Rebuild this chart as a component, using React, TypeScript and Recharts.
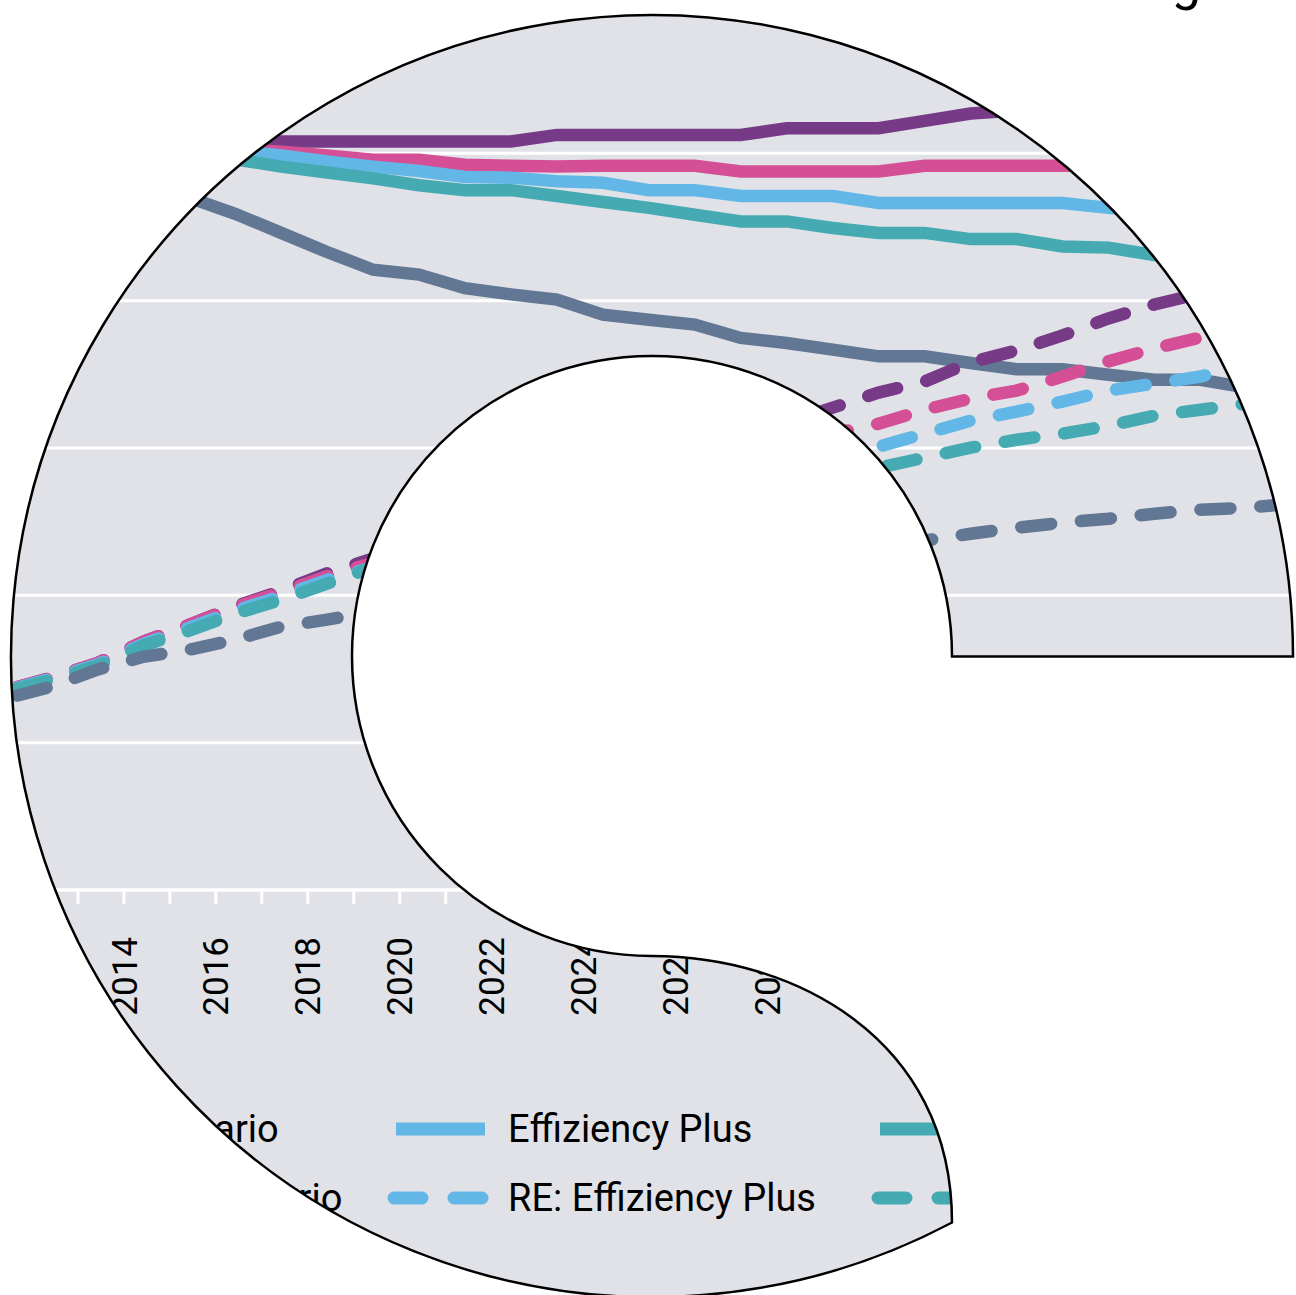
import React from 'react';
import { LineChart, Line, XAxis, YAxis, CartesianGrid, Legend } from 'recharts';

// ---------- data ----------
const years = [
  2010, 2011, 2012, 2013, 2014, 2015, 2016, 2017, 2018, 2019, 2020,
  2021, 2022, 2023, 2024, 2025, 2026, 2027, 2028, 2029, 2030,
  2031, 2032, 2033, 2034, 2035, 2036, 2037, 2038, 2039, 2040,
];
// values are plotted at mid-year
const MID_YEAR = 0.42;

const tickYears = [
  2011, 2012, 2013, 2014, 2015, 2016, 2017, 2018, 2019, 2020, 2021, 2022, 2023, 2024,
  2025, 2026, 2027, 2028, 2029, 2030, 2031, 2032, 2033, 2034, 2035, 2036, 2037, 2038, 2039,
];
const yTicks = [0, 100, 200, 300, 400, 500, 600];

// solid series
const purpleSolid = [512, 511, 510, 509, 509, 508, 508, 508, 508, 508, 508, 508, 508, 512.5, 512.5, 512.5, 512.5, 512.5, 517, 517, 517, 522, 527, 529, 531, 533, 535, 536, 538, 539, 540];
const pinkSolid = [512, 511, 510, 509, 508, 507, 503, 501, 498.5, 495.7, 495.7, 492.3, 491.6, 491, 491.6, 491.6, 491.6, 487.7, 487.7, 487.7, 487.7, 491.6, 491.6, 491.6, 491.6, 491.6, 491, 490, 490, 489, 489];
const blueSolid = [512, 511, 510, 509, 508, 506, 502, 498.5, 494.5, 491, 488, 484, 483.5, 481, 480, 475, 475, 471, 471, 471, 466.3, 466.3, 466.3, 466.3, 466.3, 463, 460, 458, 456, 455, 453];
const tealSolid = [512, 511, 510, 508, 506, 502, 496, 491, 487, 483, 478.3, 475, 475, 471, 467, 463, 458.3, 453.8, 453.8, 449.3, 446, 446, 441.8, 441.8, 436.8, 436, 431, 428, 425, 423, 420];
const graySolid = [490, 486, 482, 478, 474, 470, 459, 446, 433, 421, 417.7, 408.5, 404.3, 400.7, 390.5, 387.1, 383.8, 374.7, 371.3, 366.8, 362.2, 362.2, 357.7, 353.5, 353.5, 349.7, 346.3, 346.3, 341, 339, 336];

// dashed (RE) series
const purpleDash = [128, 135.5, 144, 154, 168.5, 180, 192.5, 203, 215, 225, 237, 246, 257, 265, 277, 286, 297, 305, 317, 327.4, 337.6, 345.1, 358.1, 366.2, 376.4, 387.9, 397.4, 404.8, 412, 418, 424];
const pinkDash = [128, 135.5, 144, 154, 168.5, 180, 192, 202, 213, 222, 232, 240, 249, 258, 266, 275, 283, 292, 300, 309.7, 316.5, 326, 333.5, 339, 348.5, 358.8, 367.6, 375, 383, 390, 396];
const blueDash = [127.5, 135, 143.5, 153, 167, 178, 189.5, 199.5, 210.5, 219, 228, 235, 243, 251, 258, 266, 273, 280, 287, 293.4, 300.9, 309.7, 318.5, 324.7, 331.5, 339, 343.7, 348.5, 356, 360, 364];
const tealDash = [127, 134.6, 142.7, 152.2, 165.8, 176, 187.5, 197, 207.9, 219, 226, 232, 239, 245, 252, 259, 265, 270, 276, 281, 286.6, 293.4, 300.2, 305.6, 309.7, 315.1, 321.9, 326, 330.1, 334, 338];
const grayDash = [122, 129.8, 138, 149.5, 158.3, 163.1, 169.9, 178.7, 183.5, 189, 193, 198, 202, 206, 211, 215, 219, 224, 228, 231, 233.5, 237.1, 241.8, 245.9, 249.3, 252, 255.4, 258.1, 259.5, 262.2, 265];

const names = {
  gray: 'Referenzszenario',
  blue: 'Effiziency Plus',
  teal: 'Elektrifizierung',
  pink: 'Wasserstoff',
  purple: 'Synthetische Kraftstoffe',
};
const colors = {
  gray: '#617794',
  blue: '#62b7e7',
  teal: '#45aab1',
  pink: '#d44f96',
  purple: '#773a87',
};
const titleText = 'Bruttostromverbrauch: Entwicklung';

type Series = { key: string; group: keyof typeof names; dashed: boolean; values: number[] };
// drawing order
const SERIES: Series[] = [
  { key: 'purpleSolid', group: 'purple', dashed: false, values: purpleSolid },
  { key: 'pinkSolid', group: 'pink', dashed: false, values: pinkSolid },
  { key: 'blueSolid', group: 'blue', dashed: false, values: blueSolid },
  { key: 'tealSolid', group: 'teal', dashed: false, values: tealSolid },
  { key: 'graySolid', group: 'gray', dashed: false, values: graySolid },
  { key: 'purpleDash', group: 'purple', dashed: true, values: purpleDash },
  { key: 'pinkDash', group: 'pink', dashed: true, values: pinkDash },
  { key: 'blueDash', group: 'blue', dashed: true, values: blueDash },
  { key: 'tealDash', group: 'teal', dashed: true, values: tealDash },
  { key: 'grayDash', group: 'gray', dashed: true, values: grayDash },
];
const legendOrder: (keyof typeof names)[] = ['gray', 'blue', 'teal', 'pink', 'purple'];

const tableData = years.map((yr, i) => {
  const row: Record<string, number> = { year: yr, t: yr + MID_YEAR };
  SERIES.forEach((s) => {
    row[s.key] = s.values[i];
  });
  return row;
});

// ---------- layout / style ----------
const W = 1296;
const H = 1295;
const BG = '#e1e2e8';
const FONT = 'Roboto, "Noto Sans", sans-serif';
const SHAPE =
  'M 952 656.5 L 1293 656.5 A 641 641 0 1 0 952 1222.5 C 952 1037 792 956 652 956 A 300 300 0 1 1 952 656.5 Z';
const DASH = '30 30';
const LINE_W = 12.5;
const LEGEND_COL_LEFT = [-126, 396, 880, 1364, 1848];
const LEGEND_ROW_TOP = [1108, 1177];
const LEGEND_FONT = 38;

function YearTick(props: any) {
  const { x, y, payload } = props;
  const yr = payload?.value;
  if (yr % 2 !== 0) return <g />;
  return (
    <text
      transform={`translate(${x},${y}) rotate(-90)`}
      textAnchor="end"
      dy="0.36em"
      fill="#000"
      fontSize={35}
      fontFamily={FONT}
    >
      {yr}
    </text>
  );
}

function LegendContent() {
  const items: React.ReactNode[] = [];
  legendOrder.forEach((g, col) => {
    [false, true].forEach((dashed, row) => {
      const label = dashed ? `RE: ${names[g]}` : names[g];
      items.push(
        <div
          key={`${g}-${row}`}
          style={{
            position: 'absolute',
            left: LEGEND_COL_LEFT[col] - 10,
            top: LEGEND_ROW_TOP[row],
            height: 42,
            display: 'flex',
            alignItems: 'center',
            whiteSpace: 'nowrap',
          }}
        >
          <svg width={112} height={20} style={{ display: 'block', flex: 'none' }}>
            {dashed ? (
              <line x1={8} x2={96} y1={10} y2={10} stroke={colors[g]} strokeWidth={13}
                strokeDasharray="28 32" strokeLinecap="round" />
            ) : (
              <line x1={10} x2={99} y1={10} y2={10} stroke={colors[g]} strokeWidth={13} />
            )}
          </svg>
          <span style={{ marginLeft: 10, fontSize: LEGEND_FONT, color: '#000', fontFamily: FONT, lineHeight: '42px' }}>
            {label}
          </span>
        </div>
      );
    });
  });
  return <div style={{ position: 'relative', width: W, height: 0 }}>{items}</div>;
}

export default function App() {
  return (
    <div
      style={{
        position: 'fixed',
        left: 0,
        top: 0,
        width: W,
        height: H,
        overflow: 'hidden',
        background: '#fff',
        fontFamily: FONT,
      }}
    >
      <div style={{ position: 'absolute', left: 0, top: 0, width: W, height: H, background: BG, clipPath: `path('${SHAPE}')` }}>
        <LineChart width={W} height={H} data={tableData} margin={{ top: 6, right: 0, bottom: 0, left: 0 }}>
          <CartesianGrid vertical={false} stroke="#fff" strokeWidth={3} />
          <XAxis
            dataKey="t"
            type="number"
            domain={[2011.304, 2039.5]}
            allowDataOverflow
            ticks={tickYears}
            interval={0}
            height={405}
            axisLine={{ stroke: '#fff', strokeWidth: 3 }}
            tickLine={{ stroke: '#fff', strokeWidth: 3 }}
            tickSize={14}
            tickMargin={33}
            tick={(p: any) => <YearTick {...p} />}
          />
          <YAxis hide type="number" domain={[0, 600]} ticks={yTicks} allowDataOverflow />
          <Legend
            content={() => <LegendContent />}
            wrapperStyle={{ position: 'absolute', top: 0, left: 0, bottom: 'auto', width: W, height: 0 }}
          />
          {SERIES.map((s) => (
            <Line
              key={s.key}
              dataKey={s.key}
              name={s.dashed ? `RE: ${names[s.group]}` : names[s.group]}
              stroke={colors[s.group]}
              strokeWidth={LINE_W}
              strokeDasharray={s.dashed ? DASH : undefined}
              strokeLinecap={s.dashed ? 'round' : 'butt'}
              dot={false}
              activeDot={false}
              type="linear"
              isAnimationActive={false}
            />
          ))}
        </LineChart>
      </div>
      <svg width={W} height={H} style={{ position: 'absolute', left: 0, top: 0, pointerEvents: 'none' }}>
        <path d={SHAPE} fill="none" stroke="#000" strokeWidth={2.5} />
        <text x={1201} y={-1} textAnchor="end" fontSize={52} fontFamily={FONT} fill="#000">
          {titleText}
        </text>
      </svg>
    </div>
  );
}
